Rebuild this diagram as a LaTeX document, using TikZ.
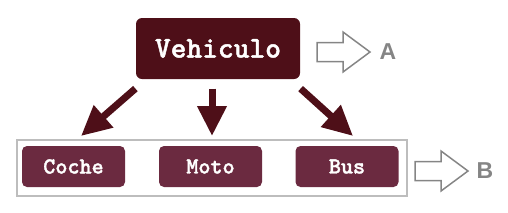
\documentclass[tikz,border=0pt]{standalone}
\usepackage{fontspec}
\setmonofont{lmmono10-regular.otf}[BoldFont=lmmonolt10-bold.otf, BoldFeatures={FakeBold=1.5}]
\setsansfont{Liberation Sans}
\usetikzlibrary{arrows.meta, positioning, calc}
\definecolor{cdark}{HTML}{4E0F18}
\definecolor{cwine}{HTML}{6B2A40}
\definecolor{cgrey}{HTML}{858585}
\definecolor{cframe}{HTML}{BDBDBD}
\tikzset{
  every picture/.style={line width=1.2pt},
  parent/.style={fill=cdark, rounded corners=6pt, text=white, font=\ttfamily\bfseries\fontsize{30}{33}\selectfont, minimum width=164pt, minimum height=61pt},
  child/.style={fill=cwine, rounded corners=5pt, text=white, font=\ttfamily\bfseries\fontsize{23}{26}\selectfont, minimum width=103pt, minimum height=41pt},
  frame/.style={draw=cframe, line width=1.5pt, minimum width=390pt, minimum height=56pt},
  down/.style={-{Triangle[width=28pt, length=30pt]}, draw=cdark, line width=7pt},
  letter/.style={font=\sffamily\bfseries\fontsize{23}{26}\selectfont, text=cgrey},
  hollow/.pic={\draw[cgrey, line width=1.5pt, line join=miter] (0,-9.5) -- (26,-9.5) -- (26,-20) -- (53,0) -- (26,20) -- (26,9.5) -- (0,9.5) -- cycle;},
}

\begin{document}
\begin{tikzpicture}[x=1pt, y=-1pt]
  \useasboundingbox (0,0) rectangle (508,212);
  % class on top
  \node[parent] (veh) at (218,48.5) {Vehiculo};
  % subclasses in a frame
  \node[frame] (group) at (212,168) {};
  \node[child] (coche) at (73.5,166.5) {Coche};
  \node[child] (moto) at (210.5,166.5) {Moto};
  \node[child] (bus) at (347,166.5) {Bus};
  % inheritance arrows
  \coordinate (tipL) at (81,136);
  \coordinate (tipM) at (212,136);
  \coordinate (tipR) at (353,136);
  \draw[down] ([yshift=-9pt]veh.south west) -- (tipL);
  \draw[down] ([xshift=-6pt, yshift=-9pt]veh.south) -- (tipM);
  \draw[down] ([yshift=-9pt]veh.south east) -- (tipR);
  % level marks
  \pic at (317,52) {hollow};
  \node[letter] (labA) at (388,52) {A};
  \pic at (415,171) {hollow};
  \node[letter] (labB) at (485,171) {B};
\end{tikzpicture}
\end{document}
